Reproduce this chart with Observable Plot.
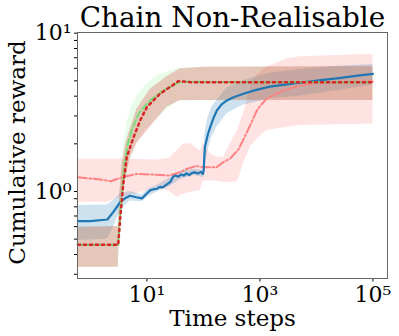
<!DOCTYPE html>
<html>
<head>
<meta charset="utf-8">
<script src="https://cdn.jsdelivr.net/npm/d3@7"></script>
<script src="https://cdn.jsdelivr.net/npm/@observablehq/plot@0.6"></script>
<style>
  html, body { margin: 0; padding: 0; background: white; }
</style>
</head>
<body>
<div id="chart"></div>
<script>
// ---- data ----
const titleText = "Chain Non-Realisable";
const xLabel = "Time steps";
const yLabel = "Cumulative reward";

const xTicks = [10, 1000, 100000];
const yMajor = [1, 10];
const yMinor = [0.3, 0.4, 0.5, 0.6, 0.7, 0.8, 0.9, 2, 3, 4, 5, 6, 7, 8, 9];

// blue solid
const blueT = [0.6, 1, 2, 2.6, 3.4, 4.2, 5, 6.5, 8.2, 10, 11.5, 13, 15, 17, 19, 22, 26, 29, 32, 36, 40, 45, 50, 56, 63, 70, 80, 90, 98, 101, 106, 120, 132, 150, 173, 210, 260, 350, 513, 800, 1500, 3000, 6000, 12000, 25000, 50000, 100000];
const blueMean = [0.65, 0.65, 0.665, 0.75, 0.86, 0.91, 0.94, 0.92, 0.905, 0.97, 1.02, 1.03, 1.04, 1.07, 1.06, 1.10, 1.15, 1.24, 1.26, 1.24, 1.28, 1.26, 1.30, 1.27, 1.31, 1.32, 1.30, 1.33, 1.29, 1.35, 1.9, 2.3, 2.55, 2.9, 3.25, 3.55, 3.76, 3.95, 4.14, 4.35, 4.6, 4.75, 4.9, 5.05, 5.2, 5.37, 5.54];
const blueBandT = [0.6, 2, 2.6, 3.4, 5, 8.2, 10, 15, 26, 40, 70, 98, 101, 106, 120, 140, 173, 260, 500, 1500, 5000, 20000, 100000];
const blueLo = [0.49, 0.5, 0.6, 0.76, 0.87, 0.86, 0.92, 0.99, 1.08, 1.2, 1.26, 1.22, 1.25, 1.45, 1.8, 2.2, 2.55, 3.1, 3.5, 3.85, 4.0, 4.3, 4.7];
const blueHi = [0.816, 0.82, 0.88, 0.97, 1.0, 0.95, 1.02, 1.09, 1.22, 1.34, 1.38, 1.36, 1.6, 2.3, 2.9, 3.4, 3.76, 4.5, 5.0, 5.6, 5.9, 6.15, 6.35];

// light green dashed
const greenT = [0.6, 3.1, 3.4, 3.8, 4.1, 4.6, 5.4, 7.1, 11.4, 19.7, 34, 45, 100000];
const greenMean = [0.46, 0.46, 0.75, 1.2, 1.57, 2.0, 2.43, 3.1, 3.76, 4.35, 4.84, 4.92, 4.9];
const greenBandT = [0.6, 3.1, 3.4, 3.8, 4.5, 5.5, 7, 9, 15, 34, 100, 100000];
const greenLo = [0.332, 0.332, 0.6, 0.95, 1.35, 1.75, 2.1, 2.4, 2.9, 3.7, 3.76, 3.76];
const greenHi = [0.595, 0.6, 1.2, 1.9, 2.8, 3.5, 4.1, 4.6, 5.4, 5.96, 6.1, 6.15];

// red dotted
const redT = [0.6, 3.1, 3.4, 3.8, 4.4, 5.8, 7.6, 10, 17, 28, 36, 60, 100000];
const redMean = [0.46, 0.46, 0.7, 1.1, 1.65, 2.2, 2.81, 3.41, 4.14, 4.67, 4.98, 4.9, 4.9];
const redBandT = [0.6, 3.1, 3.3, 3.7, 4.2, 5, 6.6, 11.4, 22.6, 39, 100, 100000];
const redLo = [0.332, 0.332, 0.6, 0.9, 1.2, 1.6, 2.0, 2.55, 3.4, 3.76, 3.76, 3.76];
const redHi = [0.595, 0.6, 0.95, 1.5, 2.0, 2.45, 3.3, 4.4, 5.3, 5.96, 6.1, 6.15];

// salmon dash-dot
const salmonT = [0.6, 1.5, 2.3, 3.4, 6.6, 12, 25, 40, 51, 75, 100, 170, 224, 300, 420, 600, 900, 1300, 2600, 5000, 10000, 30000, 100000];
const salmonMean = [1.23, 1.19, 1.16, 1.22, 1.29, 1.28, 1.26, 1.33, 1.39, 1.45, 1.42, 1.42, 1.53, 1.62, 1.85, 2.4, 3.3, 3.85, 4.35, 4.65, 4.85, 4.92, 4.95];
const salmonBandT = [0.6, 2, 3.4, 6.6, 15, 25, 34, 45, 60, 88, 100, 130, 170, 230, 300, 400, 513, 673, 900, 1330, 3000, 5100, 100000];
const salmonLo = [0.856, 0.856, 0.92, 0.966, 1.06, 1.0, 0.92, 0.96, 0.99, 1.015, 1.17, 1.17, 1.16, 1.14, 1.14, 1.15, 1.5, 1.9, 2.15, 2.43, 2.55, 2.61, 2.67];
const salmonHi = [1.6, 1.6, 1.6, 1.59, 1.58, 1.62, 1.8, 2.0, 2.0, 1.8, 2.0, 1.75, 1.65, 1.65, 2.0, 2.43, 3.1, 4.5, 5.5, 6.1, 6.9, 7.1, 7.35];

// ---- helpers ----
const line = (T, M) => T.map((t, i) => ({t, v: M[i]}));
const band = (T, L, U) => T.map((t, i) => ({t, lo: L[i], hi: U[i]}));
const supDigits = "⁰¹²³⁴⁵⁶⁷⁸⁹";
const sup = d => "10" + String(Math.round(Math.log10(d))).split("").map(c => supDigits[+c]).join("");
const yTicks = [...yMinor, ...yMajor].sort((a, b) => a - b);

const W = 399, H = 336, mL = 77, mR = 12, mT = 32, mB = 58;

const chart = Plot.plot({
  width: W,
  height: H,
  marginLeft: mL,
  marginRight: mR,
  marginTop: mT,
  marginBottom: mB,
  style: {fontFamily: "DejaVu Serif", fontSize: "22px", background: "white", color: "black", overflow: "visible"},
  x: {type: "log", domain: [0.591, 181000], ticks: xTicks, tickFormat: sup, tickSize: 3.5, tickPadding: 4, label: null},
  y: {type: "log", domain: [0.282, 10.1], ticks: yTicks, tickFormat: d => yMajor.includes(d) ? sup(d) : "", tickSize: 3, tickPadding: 3, label: null},
  marks: [
    Plot.areaY(band(salmonBandT, salmonLo, salmonHi), {x: "t", y1: "lo", y2: "hi", fill: "#ff8f8f", fillOpacity: 0.25}),
    Plot.areaY(band(blueBandT, blueLo, blueHi), {x: "t", y1: "lo", y2: "hi", fill: "#1f77b4", fillOpacity: 0.22}),
    Plot.areaY(band(greenBandT, greenLo, greenHi), {x: "t", y1: "lo", y2: "hi", fill: "#90ee90", fillOpacity: 0.2}),
    Plot.areaY(band(redBandT, redLo, redHi), {x: "t", y1: "lo", y2: "hi", fill: "#d62728", fillOpacity: 0.25}),
    Plot.line(line(salmonT, salmonMean), {x: "t", y: "v", stroke: "#ff8282", strokeWidth: 2, strokeDasharray: "9,2.5,1.8,2.5"}),
    Plot.line(line(blueT, blueMean), {x: "t", y: "v", stroke: "#1f77b4", strokeWidth: 2.2}),
    Plot.line(line(greenT, greenMean), {x: "t", y: "v", stroke: "#7edc7e", strokeWidth: 2.2, strokeDasharray: "7,3"}),
    Plot.line(line(redT, redMean), {x: "t", y: "v", stroke: "#d62728", strokeWidth: 2.5, strokeDasharray: "2.3,3.7"}),
    Plot.frame({stroke: "#666", strokeWidth: 1}),
    Plot.text([titleText], {text: d => d, frameAnchor: "top", dy: -6, lineAnchor: "bottom", fontSize: 27.8}),
    Plot.text([xLabel], {text: d => d, frameAnchor: "bottom", dy: 47, lineAnchor: "bottom", fontSize: 23})
  ]
});

// rotated y-axis label, placed beside the frame
d3.select(chart).append("text")
  .attr("transform", `translate(25,${(mT + H - mB) / 2 - 2.5}) rotate(-90)`)
  .attr("text-anchor", "middle")
  .attr("font-family", "DejaVu Serif")
  .attr("font-size", 23)
  .attr("fill", "black")
  .text(yLabel);

document.getElementById("chart").appendChild(chart);
</script>
</body>
</html>
